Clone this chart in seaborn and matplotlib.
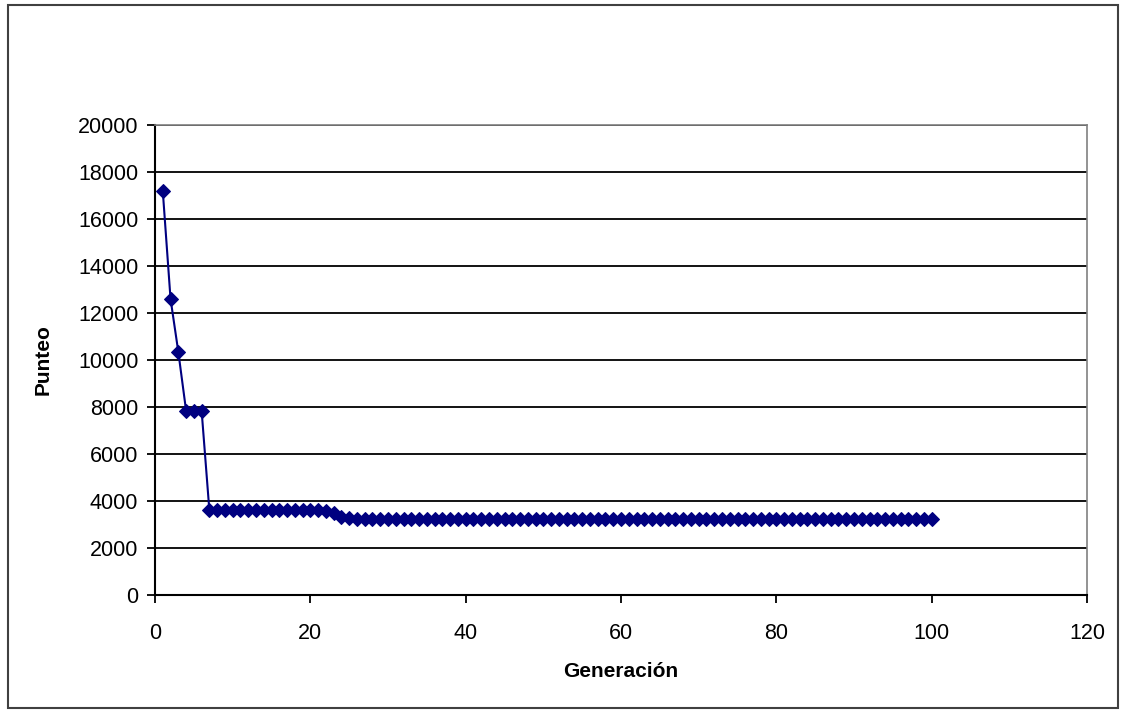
import numpy as np
import pandas as pd
import matplotlib
matplotlib.use("Agg")
import matplotlib.pyplot as plt
import seaborn as sns
from matplotlib.patches import Rectangle

generacion = list(range(1, 101))
punteo = ([17200, 12600, 10350, 7850, 7850, 7850]
          + [3600] * 15
          + [3580, 3480, 3300, 3280]
          + [3250] * 75)

x_ticks = [0, 20, 40, 60, 80, 100, 120]
y_ticks = [0, 2000, 4000, 6000, 8000, 10000, 12000, 14000, 16000, 18000, 20000]

sns.set_style("white")
plt.rcParams['font.family'] = ['Liberation Sans', 'DejaVu Sans']
plt.rcParams['text.color'] = 'black'
plt.rcParams['axes.labelcolor'] = 'black'
plt.rcParams['xtick.color'] = 'black'
plt.rcParams['ytick.color'] = 'black'

df = pd.DataFrame({"Generación": generacion, "Punteo": punteo})

fig = plt.figure(figsize=(11.25, 7.12), dpi=100)
ax = fig.add_axes([155/1125, 1 - 595/712, (1087-155)/1125, (595-125)/712])

sns.lineplot(data=df, x="Generación", y="Punteo", ax=ax, color="#000080",
             marker="D", markersize=7.5, markeredgecolor="#000080",
             linewidth=1.5, zorder=3)

ax.set_xlim(0, 120)
ax.set_ylim(0, 20000)
ax.set_xticks(x_ticks)
ax.set_yticks(y_ticks)
ax.set_xticklabels([str(v) for v in x_ticks])
ax.set_yticklabels([str(v) for v in y_ticks])
ax.yaxis.grid(True, color="black", linewidth=1.3)
ax.xaxis.grid(False)
ax.set_axisbelow(True)

for s in ["left", "bottom"]:
    ax.spines[s].set_color("black")
    ax.spines[s].set_linewidth(1.5)
for s in ["top", "right"]:
    ax.spines[s].set_color("#808080")
    ax.spines[s].set_linewidth(1.2)

ax.tick_params(axis="both", which="major", direction="out", length=6, width=1.3,
               color="black", labelcolor="black", labelsize=15.5, left=True, bottom=True)
ax.tick_params(axis="x", pad=14)
ax.tick_params(axis="y", pad=6)
ax.set_xlabel("Generación", fontsize=15, fontweight="bold", labelpad=13, color="black")
ax.set_ylabel("Punteo", fontsize=15, fontweight="bold", labelpad=18, color="black")

fig.patches.append(Rectangle((8/1125, 1 - 708/712), (1118-8)/1125, (708-5)/712,
                             transform=fig.transFigure, fill=False,
                             edgecolor="#404040", linewidth=1.5))

fig.savefig("out.png", dpi=100)
